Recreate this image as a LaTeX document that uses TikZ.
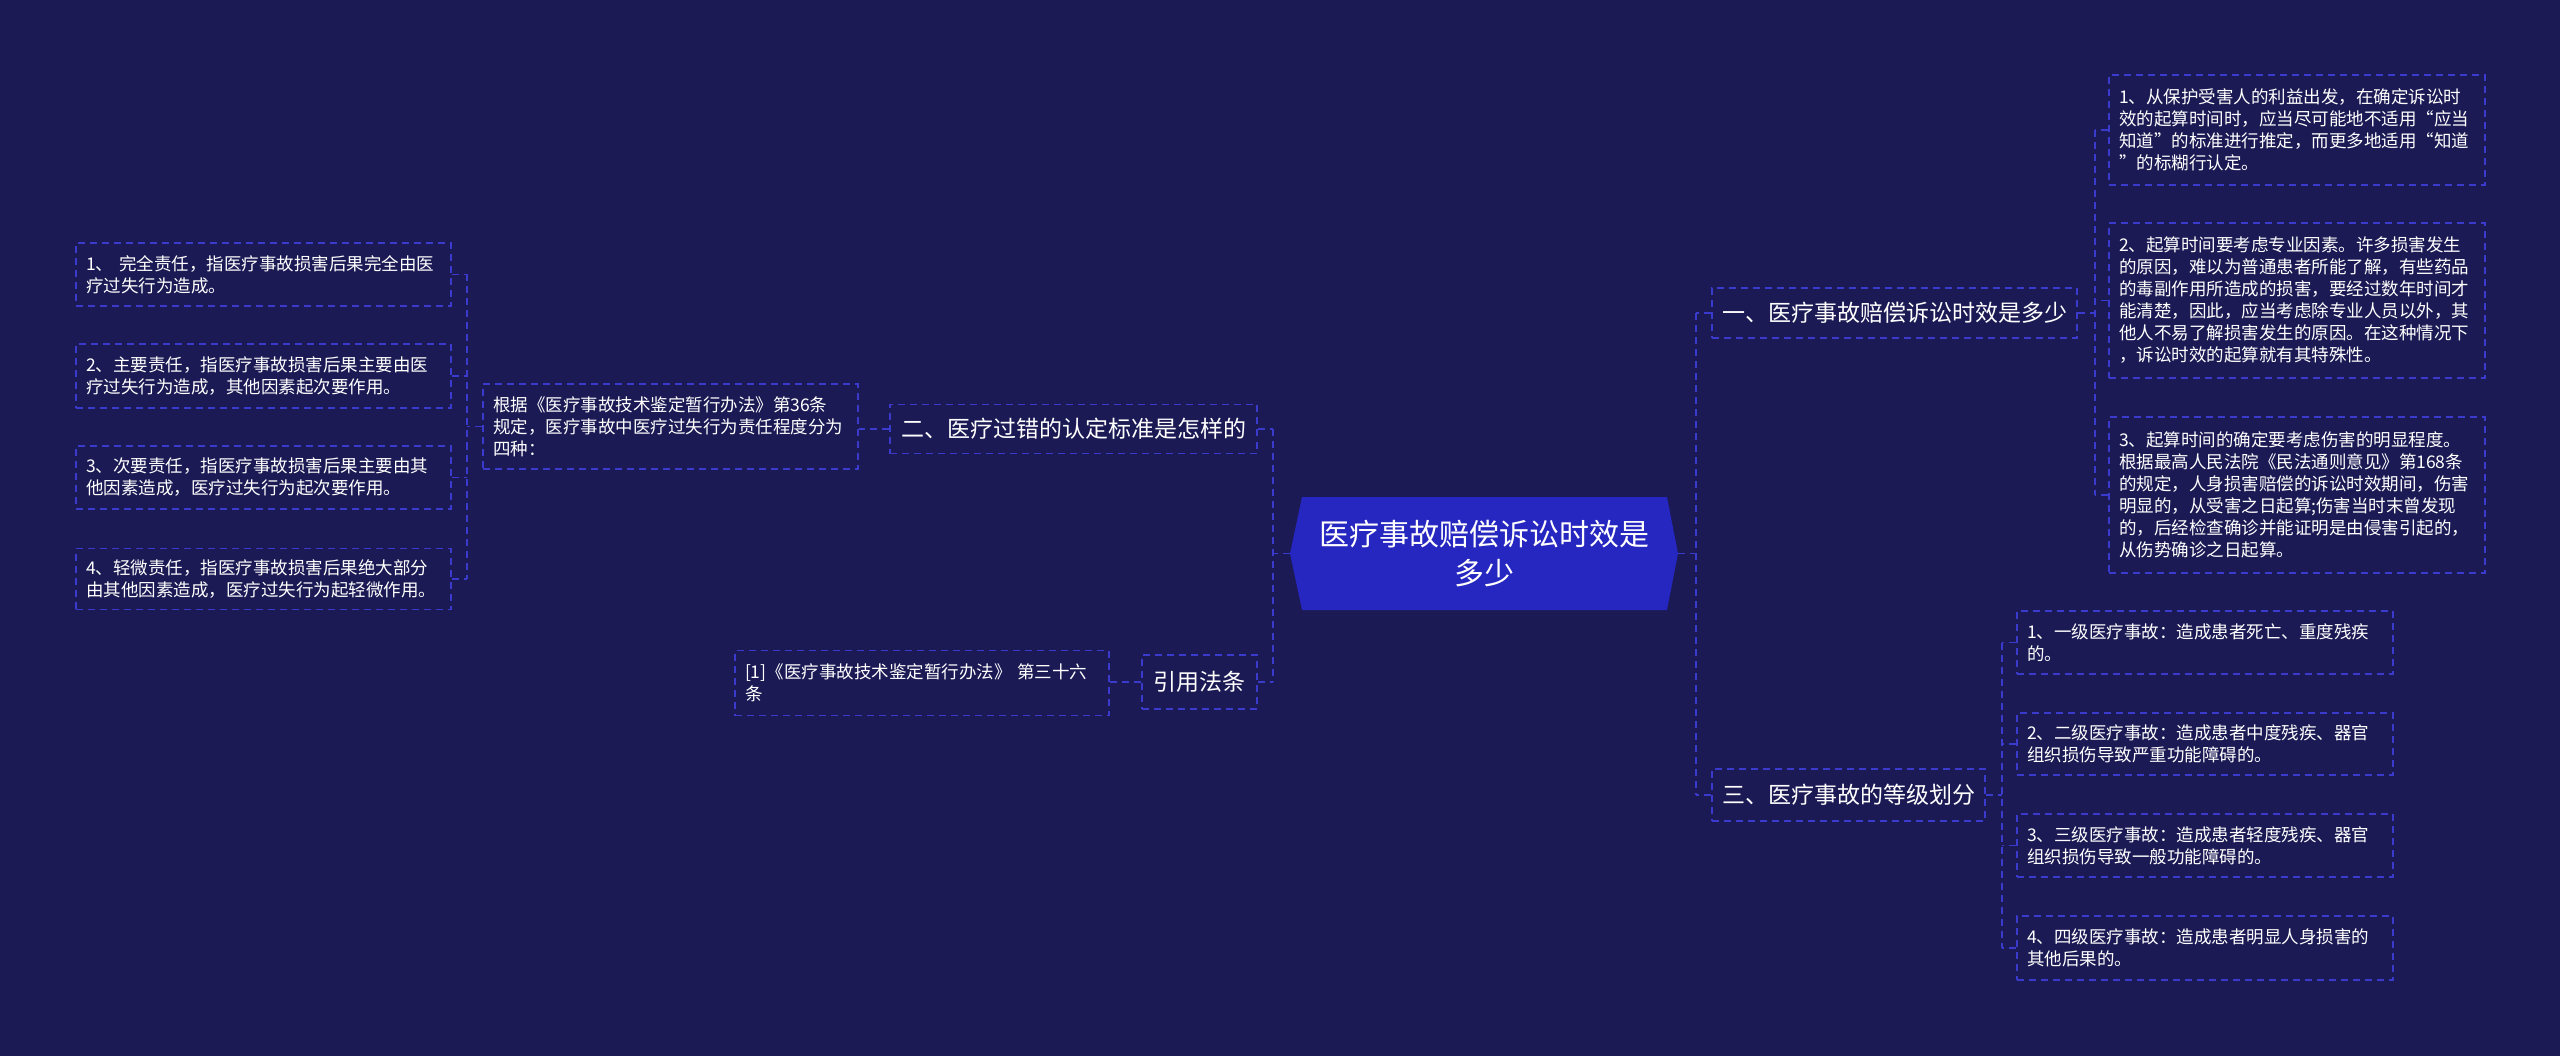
\documentclass[tikz,border=0pt]{standalone}
\usepackage{fontspec}
\newfontfamily\cjk{Noto Sans CJK SC}
\definecolor{bgc}{RGB}{27,26,84}
\definecolor{hubc}{RGB}{38,38,192}
\definecolor{dashc}{RGB}{58,58,205}
\begin{document}
\begin{tikzpicture}[x=1pt,y=-1pt,
  leafbox/.style={draw=dashc, line width=1.3pt, dash pattern=on 7pt off 5pt, text=white,
    font=\cjk\fontsize{17.5}{22}\selectfont, align=left, inner xsep=10pt, inner ysep=0pt},
  topicbox/.style={draw=dashc, line width=1.3pt, dash pattern=on 7pt off 5pt, text=white,
    font=\cjk\fontsize{23}{28}\selectfont, align=center, inner sep=0pt},
  hubtext/.style={text=white, font=\cjk\fontsize{30}{39}\selectfont, align=center, inner sep=0pt},
  conn/.style={draw=dashc, line width=1.3pt, dash pattern=on 7pt off 5pt}]
\useasboundingbox (0,0) rectangle (2560,1056);
\fill[bgc] (0,0) rectangle (2560,1056);

% central hub
\fill[hubc] (1290,553.5) -- (1302,497) -- (1667,497) -- (1678,553.5) -- (1667,610) -- (1302,610) -- cycle;
\node[hubtext, minimum width=388pt, minimum height=113pt] (hub) at (1484,553.5) {医疗事故赔偿诉讼时效是\\多少};

% topics
\node[topicbox, minimum width=367pt, minimum height=49pt] (er) at (1073.5,429) {二、医疗过错的认定标准是怎样的};
\node[topicbox, minimum width=115pt, minimum height=54pt] (yin) at (1199.5,682) {引用法条};
\node[topicbox, minimum width=365pt, minimum height=50pt] (yi) at (1894.5,313) {一、医疗事故赔偿诉讼时效是多少};
\node[topicbox, minimum width=273pt, minimum height=52pt] (san) at (1848.5,795) {三、医疗事故的等级划分};

% second level left
\node[leafbox, text width=355pt, minimum height=85pt] (gen) at (670.5,426.5) {根据《医疗事故技术鉴定暂行办法》第36条\\规定，医疗事故中医疗过失行为责任程度分为\\四种：};
\node[leafbox, text width=354pt, minimum height=65pt] (ref) at (922,683) {[1]《医疗事故技术鉴定暂行办法》~第三十六\\条};

% left leaves
\node[leafbox, text width=355pt, minimum height=63pt] (l1) at (263.5,274.5) {1、 完全责任，指医疗事故损害后果完全由医\\疗过失行为造成。};
\node[leafbox, text width=355pt, minimum height=64pt] (l2) at (263.5,376) {2、主要责任，指医疗事故损害后果主要由医\\疗过失行为造成，其他因素起次要作用。};
\node[leafbox, text width=355pt, minimum height=63pt] (l3) at (263.5,477.5) {3、次要责任，指医疗事故损害后果主要由其\\他因素造成，医疗过失行为起次要作用。};
\node[leafbox, text width=355pt, minimum height=61pt] (l4) at (263.5,579) {4、轻微责任，指医疗事故损害后果绝大部分\\由其他因素造成，医疗过失行为起轻微作用。};

% right top leaves
\node[leafbox, text width=356pt, minimum height=110pt] (r1) at (2297,130) {1、从保护受害人的利益出发，在确定诉讼时\\效的起算时间时，应当尽可能地不适用“应当\\知道”的标准进行推定，而更多地适用“知道\\”的标糊行认定。};
\node[leafbox, text width=356pt, minimum height=155pt] (r2) at (2297,300.5) {2、起算时间要考虑专业因素。许多损害发生\\的原因，难以为普通患者所能了解，有些药品\\的毒副作用所造成的损害，要经过数年时间才\\能清楚，因此，应当考虑除专业人员以外，其\\他人不易了解损害发生的原因。在这种情况下\\，诉讼时效的起算就有其特殊性。};
\node[leafbox, text width=356pt, minimum height=156pt] (r3) at (2297,495) {3、起算时间的确定要考虑伤害的明显程度。\\根据最高人民法院《民法通则意见》第168条\\的规定，人身损害赔偿的诉讼时效期间，伤害\\明显的，从受害之日起算;伤害当时末曾发现\\的，后经检查确诊并能证明是由侵害引起的，\\从伤势确诊之日起算。};

% right lower leaves
\node[leafbox, text width=356pt, minimum height=63pt] (s1) at (2205,642.5) {1、一级医疗事故：造成患者死亡、重度残疾\\的。};
\node[leafbox, text width=356pt, minimum height=62pt] (s2) at (2205,744) {2、二级医疗事故：造成患者中度残疾、器官\\组织损伤导致严重功能障碍的。};
\node[leafbox, text width=356pt, minimum height=63pt] (s3) at (2205,845.5) {3、三级医疗事故：造成患者轻度残疾、器官\\组织损伤导致一般功能障碍的。};
\node[leafbox, text width=356pt, minimum height=64pt] (s4) at (2205,948) {4、四级医疗事故：造成患者明显人身损害的\\其他后果的。};

% junction coordinates
\coordinate (jc) at (1273,553.5);
\coordinate (jd) at (1696,553.5);
\coordinate (jl) at (467,426.5);
\coordinate (jr) at (2095,313);
\coordinate (js) at (2002,795);

% hub connectors
\draw[conn] (hub.west) -- (jc);
\draw[conn] (er.east -| jc) -- (yin.east -| jc);
\draw[conn] (er.east) -- (er.east -| jc);
\draw[conn] (yin.east) -- (yin.east -| jc);
\draw[conn] (hub.east) -- (jd);
\draw[conn] (yi.west -| jd) -- (san.west -| jd);
\draw[conn] (yi.west) -- (yi.west -| jd);
\draw[conn] (san.west) -- (san.west -| jd);

% second level
\draw[conn] (er.west) -- (er.west -| gen.east);
\draw[conn] (yin.west) -- (yin.west -| ref.east);

% left leaves
\draw[conn] (gen.west) -- (jl);
\draw[conn] (l1.east -| jl) -- (l4.east -| jl);
\foreach \n in {l1,l2,l3,l4} { \draw[conn] (\n.east) -- (\n.east -| jl); }

% right top leaves
\draw[conn] (yi.east) -- (jr);
\draw[conn] (r1.west -| jr) -- (r3.west -| jr);
\foreach \n in {r1,r2,r3} { \draw[conn] (\n.west) -- (\n.west -| jr); }

% right lower leaves
\draw[conn] (san.east) -- (js);
\draw[conn] (s1.west -| js) -- (s4.west -| js);
\foreach \n in {s1,s2,s3,s4} { \draw[conn] (\n.west) -- (\n.west -| js); }
\end{tikzpicture}
\end{document}
